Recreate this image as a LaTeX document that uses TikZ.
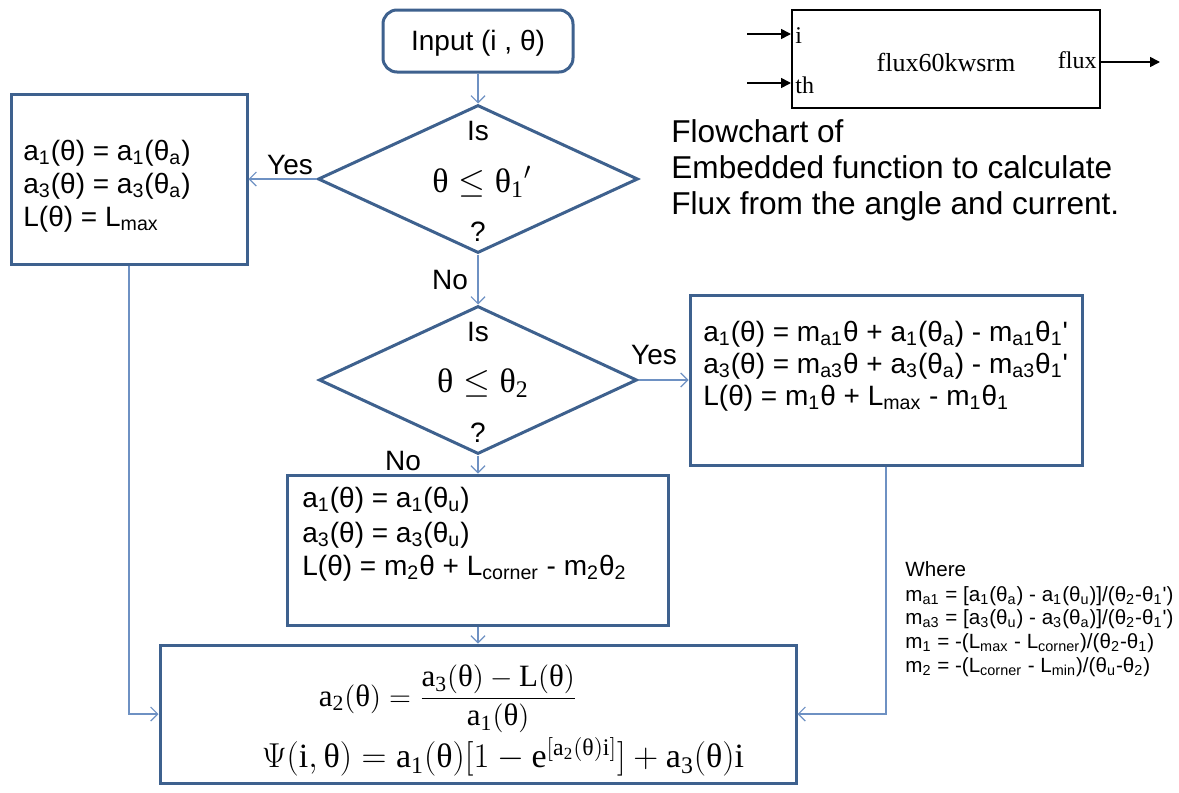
\documentclass[tikz,border=0pt]{standalone}
\usepackage{fontspec}
\usepackage{amsmath}
\setmainfont{Liberation Sans}
\newfontfamily\eqf{Liberation Serif}
\usetikzlibrary{arrows.meta,shapes.geometric,calc}
\definecolor{bordc}{RGB}{62,97,142}
\definecolor{arrc}{RGB}{110,145,195}
\newcommand\sbs[1]{\textsubscript{#1}}
\newcommand\tq{\textquotesingle}
\newcommand\tx[1]{\text{#1}}
\begin{document}
\begin{tikzpicture}[x=0.5pt,y=-0.5pt,font=\fontsize{14}{16}\selectfont,
  fbox/.style={draw=bordc,line width=1.5pt,fill=white,inner sep=0pt},
  fdia/.style={fbox,diamond},
  arr/.style={draw=arrc,line width=0.6pt,-{Straight Barb[length=3.5pt,width=7pt]}},
  simarr/.style={draw=black,line width=0.8pt,-{Triangle[length=5pt,width=5pt]}},
  lbl/.style={inner sep=0pt,anchor=base west},
  ctr/.style={inner sep=0pt},
  cond/.style={inner sep=0pt,font=\eqf\fontsize{17}{20}\selectfont},
  eqn/.style={inner sep=0pt,font=\eqf\fontsize{15.5}{18}\selectfont},
  eqnb/.style={inner sep=0pt,font=\eqf\fontsize{17}{20}\selectfont},
  wsmall/.style={lbl,font=\fontsize{10.3}{12}\selectfont},
  captxt/.style={lbl,font=\fontsize{15.8}{18}\selectfont}]
\useasboundingbox (0,0) rectangle (1179,793);

% ---- Simulink block ----
\node[draw=black,line width=1pt,inner sep=0pt,minimum width=154pt,minimum height=49pt] (sim) at (946,59) {};
\node[ctr,font=\eqf\fontsize{13}{15}\selectfont] (simname) at (946,62) {flux60kwsrm};
\node[lbl,font=\eqf\fontsize{12}{14}\selectfont] (pi) at (795,43) {i};
\node[lbl,font=\eqf\fontsize{12}{14}\selectfont] (pth) at (795,93) {th};
\node[inner sep=0pt,anchor=base east,font=\eqf\fontsize{12}{14}\selectfont] (pflux) at (1097,68) {flux};
\coordinate (in1) at (747,34);
\coordinate (in2) at (747,83);
\coordinate (out1) at (1160,62);
\draw[simarr] (in1) -- (in1 -| sim.west);
\draw[simarr] (in2) -- (in2 -| sim.west);
\draw[simarr] (out1 -| sim.east) -- (out1);

% ---- caption ----
\node[captxt] (c1) at (671,142) {Flowchart of};
\node[captxt] (c2) at (671,178) {Embedded function to calculate};
\node[captxt] (c3) at (671,214) {Flux from the angle and current.};

% ---- flowchart shapes ----
\node[fbox,rounded corners=7pt,minimum width=95pt,minimum height=31pt] (inp) at (478,41) {};
\node[ctr] (inpt) at (478,43) {Input (i , θ)};

\node[fdia,minimum width=160pt,minimum height=74pt] (d1) at (478,179) {};
\node[ctr] (d1a) at (478,131) {Is};
\node[cond] (d1b) at (482,182) {$\tx{θ} \le \tx{θ}_{\tx{1}}{}'$};
\node[ctr] (d1c) at (478,232) {?};

\node[fdia,minimum width=159pt,minimum height=74pt] (d2) at (478,380) {};
\node[ctr] (d2a) at (478,332) {Is};
\node[cond] (d2b) at (483,383) {$\tx{θ} \le \tx{θ}_{\tx{2}}$};
\node[ctr] (d2c) at (478,433) {?};

\node[fbox,minimum width=118pt,minimum height=85pt] (b1) at (129,179) {};
\node[lbl] (b1l1) at (23,160) {a\sbs{1}(θ) = a\sbs{1}(θ\sbs{a})};
\node[lbl] (b1l2) at (23,193) {a\sbs{3}(θ) = a\sbs{3}(θ\sbs{a})};
\node[lbl] (b1l3) at (23,226) {L(θ) = L\sbs{max}};

\node[fbox,minimum width=196pt,minimum height=85pt] (b2) at (886,380) {};
\node[lbl] (b2l1) at (703,341) {a\sbs{1}(θ) = m\sbs{a1}θ + a\sbs{1}(θ\sbs{a}) - m\sbs{a1}θ\sbs{1}\tq};
\node[lbl] (b2l2) at (703,373) {a\sbs{3}(θ) = m\sbs{a3}θ + a\sbs{3}(θ\sbs{a}) - m\sbs{a3}θ\sbs{1}\tq};
\node[lbl] (b2l3) at (703,405) {L(θ) = m\sbs{1}θ + L\sbs{max} - m\sbs{1}θ\sbs{1}};

\node[fbox,minimum width=190.5pt,minimum height=75pt] (b3) at (478,550) {};
\node[lbl] (b3l1) at (302,507) {a\sbs{1}(θ) = a\sbs{1}(θ\sbs{u})};
\node[lbl] (b3l2) at (302,542) {a\sbs{3}(θ) = a\sbs{3}(θ\sbs{u})};
\node[lbl] (b3l3) at (302,575) {L(θ) = m\sbs{2}θ + L\sbs{corner} - m\sbs{2}θ\sbs{2}};

\node[fbox,minimum width=318pt,minimum height=69pt] (bb) at (478,714) {};
\node[eqn] (e1) at (448,699) {$\tx{a}_{\tx{2}}(\tx{θ}) = \dfrac{\tx{a}_{\tx{3}}(\tx{θ}) - \tx{L}(\tx{θ})}{\tx{a}_{\tx{1}}(\tx{θ})}$};
\node[eqnb] (e2) at (503,757) {$\Psi(\tx{i},\tx{θ}) = \tx{a}_{\tx{1}}(\tx{θ})[1 - \tx{e}^{[\tx{a}_{\tx{2}}(\tx{θ})\tx{i}]}] + \tx{a}_{\tx{3}}(\tx{θ})\tx{i}$};

% ---- where ----
\node[wsmall] (w0) at (905,576) {Where};
\node[wsmall] (w1) at (905,601) {m\sbs{a1} = [a\sbs{1}(θ\sbs{a}) - a\sbs{1}(θ\sbs{u})]/(θ\sbs{2}-θ\sbs{1}\tq)};
\node[wsmall] (w2) at (905,624) {m\sbs{a3} = [a\sbs{3}(θ\sbs{u}) - a\sbs{3}(θ\sbs{a})]/(θ\sbs{2}-θ\sbs{1}\tq)};
\node[wsmall] (w3) at (905,648) {m\sbs{1} = -(L\sbs{max} - L\sbs{corner})/(θ\sbs{2}-θ\sbs{1})};
\node[wsmall] (w4) at (905,672) {m\sbs{2} = -(L\sbs{corner} - L\sbs{min})/(θ\sbs{u}-θ\sbs{2})};

% ---- connectors ----
\draw[arr] (inp) -- (d1);
\draw[arr] (d1.west) -- (d1.west -| b1.east);
\draw[arr] (d1) -- (d2);
\draw[arr] (d2.east) -- (d2.east -| b2.west);
\draw[arr] (d2) -- (b3);
\draw[arr] (b3) -- (bb);
\draw[arr] (b1.south) |- (bb.west);
\draw[arr] (b2.south) |- (bb.east);

\node[ctr] (y1) at (290,165) {Yes};
\node[ctr] (n1) at (450,280) {No};
\node[ctr] (y2) at (654,355) {Yes};
\node[ctr] (n2) at (403,461) {No};
\end{tikzpicture}
\end{document}
